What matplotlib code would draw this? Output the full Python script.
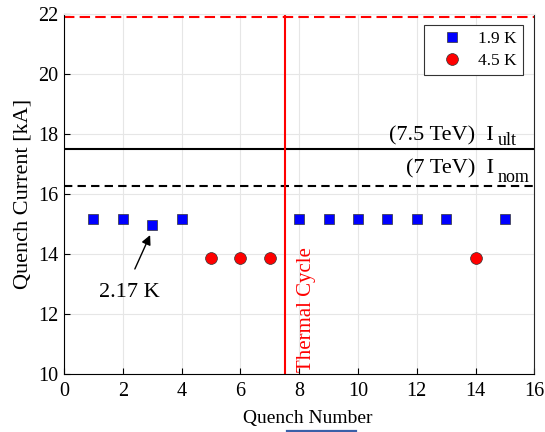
import matplotlib.pyplot as plt
import matplotlib.lines as mlines

plt.rcParams["font.family"] = ["Liberation Serif", "DejaVu Serif"]

# quench data
quench_19k = [1, 2, 3, 4, 8, 9, 10, 11, 12, 13, 15]
current_19k = [15.15, 15.18, 14.95, 15.15, 15.18, 15.16, 15.16, 15.16, 15.15, 15.16, 15.15]
quench_45k = [5, 6, 7, 14]
current_45k = [13.85, 13.87, 13.87, 13.87]

i_ult = 17.5
i_nom = 16.25
i_short = 21.9
thermal_cycle = 7.5

fig, ax = plt.subplots(figsize=(5.45, 4.32), dpi=100)
fig.subplots_adjust(left=0.1174, right=0.9806, top=0.9676, bottom=0.1343)

ax.grid(True, color="#e6e6e6", linewidth=0.8)
ax.set_axisbelow(True)

ax.axhline(i_short, color="red", linestyle=(0, (5, 2.5)), linewidth=1.5)
ax.axhline(i_ult, color="black", linewidth=1.5)
ax.axhline(i_nom, color="black", linestyle=(0, (4, 2.5)), linewidth=1.5)
ax.axvline(thermal_cycle, color="red", linewidth=1.5)

ax.plot(quench_19k, current_19k, "s", color="blue", markeredgecolor="#333333",
        markeredgewidth=0.5, markersize=7.2, label="1.9 K")
ax.plot(quench_45k, current_45k, "o", color="red", markeredgecolor="#333333",
        markeredgewidth=0.5, markersize=8.5, label="4.5 K")

# energy labels with hand-placed subscripts
ax.text(14.63, 17.8, "(7.5 TeV)  I", ha="right", va="baseline", fontsize=16)
ax.text(14.76, 17.63, "ult", ha="left", va="baseline", fontsize=13)
ax.text(14.63, 16.7, "(7 TeV)  I", ha="right", va="baseline", fontsize=16)
ax.text(14.76, 16.4, "nom", ha="left", va="baseline", fontsize=13)

ax.text(7.93, 10.05, "Thermal Cycle", color="red", rotation=90,
        ha="left", va="bottom", fontsize=15)

ax.annotate("", xy=(2.93, 14.63), xytext=(2.41, 13.5),
            arrowprops=dict(arrowstyle="-|>", color="black", lw=1.0,
                            shrinkA=0, shrinkB=0, mutation_scale=14))
ax.text(2.24, 12.7, "2.17 K", ha="center", va="center", fontsize=16)

ax.set_xlim(0, 16)
ax.set_ylim(10, 22)
ax.set_xticks(range(0, 17, 2))
ax.set_yticks(range(10, 23, 2))
ax.tick_params(direction="in", labelsize=14.5, length=4.5, top=False, right=False)
ax.tick_params(axis="x", pad=6)
ax.tick_params(axis="y", pad=4)
ax.spines["top"].set_color("#e6e6e6")
ax.spines["right"].set_color("#262626")
ax.set_xlabel("Quench Number", fontsize=14, labelpad=9)
ax.xaxis.set_label_coords(0.519, -0.1)
ax.xaxis.label.set_va("top")
ax.set_ylabel("Quench Current [kA]", fontsize=16, labelpad=4)

leg = ax.legend(loc="upper right", bbox_to_anchor=(0.976, 0.969), borderaxespad=0,
                fontsize=12.5, fancybox=False, edgecolor="#333333", framealpha=1,
                borderpad=0.35, handletextpad=0.3, handlelength=2.5,
                labelspacing=0.3)
leg.get_frame().set_linewidth(0.8)

# underline mark below the axis label
fig.add_artist(mlines.Line2D([0.527, 0.653], [0.003, 0.003], color="#3a5fa8",
                             linewidth=1.6, transform=fig.transFigure))

fig.savefig("out.png", dpi=100)
